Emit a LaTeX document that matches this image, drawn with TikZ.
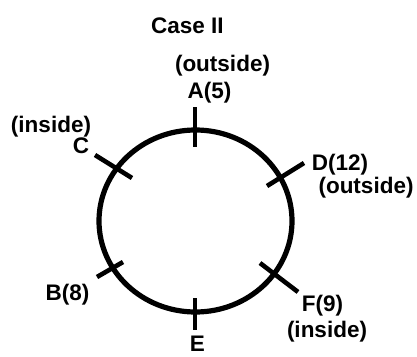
\documentclass[tikz,border=0pt]{standalone}
\usepackage{fontspec}
\setmainfont{Liberation Sans}
\begin{document}
\begin{tikzpicture}[x=1pt,y=-1pt,
  lbl/.style={anchor=base,inner sep=0pt,font=\fontsize{22.5}{26}\selectfont\bfseries},
  ring/.style={line width=5.2pt},
  tick/.style={line width=4.6pt}]
\useasboundingbox (0,0) rectangle (417,356);
% circle
\draw[ring] (195.5,221) ellipse [x radius=96.5, y radius=91];
% tick end points
\coordinate (a1) at (195,107); \coordinate (a2) at (195,147);
\coordinate (c1) at (95,155);  \coordinate (c2) at (132,178);
\coordinate (d1) at (304,163); \coordinate (d2) at (267,186);
\coordinate (b1) at (97,277);  \coordinate (b2) at (123,262);
\coordinate (f1) at (260,263); \coordinate (f2) at (298,292);
\coordinate (e1) at (195,298); \coordinate (e2) at (195,330);
\draw[tick] (a1) -- (a2);
\draw[tick] (c1) -- (c2);
\draw[tick] (d1) -- (d2);
\draw[tick] (b1) -- (b2);
\draw[tick] (f1) -- (f2);
\draw[tick] (e1) -- (e2);
% labels
\node[lbl] (title) at (187.5,33) {Case II};
\node[lbl] (aout) at (222.5,71) {(outside)};
\node[lbl] (A) at (209.5,98) {A(5)};
\node[lbl] (cin) at (51,132) {(inside)};
\node[lbl] (C) at (81,153) {C};
\node[lbl] (D) at (340,170) {D(12)};
\node[lbl] (dout) at (366,193) {(outside)};
\node[lbl] (B) at (67.5,300) {B(8)};
\node[lbl] (F) at (322.5,311) {F(9)};
\node[lbl] (fin) at (327,337) {(inside)};
\node[lbl] (E) at (197.5,351) {E};
\end{tikzpicture}
\end{document}
